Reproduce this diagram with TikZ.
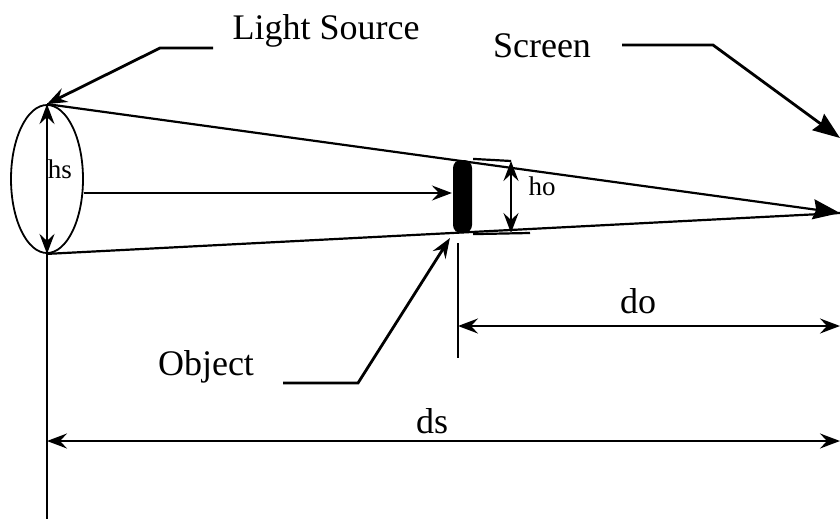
\documentclass[tikz,border=0pt]{standalone}
\usepackage{fontspec}
\setmainfont{Liberation Serif}
\usetikzlibrary{arrows.meta,shapes.geometric}
\begin{document}
\begin{tikzpicture}[x=1pt,y=-1pt,line width=2.2pt,
  >={Stealth[length=20pt,width=15pt,inset=7pt]},
  big/.style={-{Stealth[length=27pt,width=20pt,inset=3pt]}},
  lbl/.style={anchor=base,inner sep=0pt,font=\fontsize{36}{40}\selectfont},
  sml/.style={anchor=base,inner sep=0pt,font=\fontsize{27}{30}\selectfont}]
\useasboundingbox (0,0) rectangle (840,519);
% light source and object
\node (lamp) [draw,ellipse,line width=1.8pt,inner sep=0pt,minimum width=72pt,minimum height=148pt] at (47,179) {};
\node (obj) [fill,rounded corners=8pt,inner sep=0pt,minimum width=19pt,minimum height=73pt] at (462.5,196.5) {};
\coordinate (scr) at (840,213);
\coordinate (scrtop) at (840,138);
% rays
\draw[big](lamp.north)--(scr);
\draw(lamp.south)--(scr);
\draw[->](lamp.east |- 0,193)--(obj.west |- 0,193);
% heights
\draw[<->](lamp.north)--(lamp.south);
\draw(lamp.south)--(47,519);
\draw(obj.north east)--(511,161);
\draw(obj.south east)--(530,233);
\draw[<->](511,161)--(511,233);
\node (hs) [sml] at (60,178) {hs};
\node (ho) [sml] at (542,195) {ho};
% distances
\draw(458,243)--(458,358);
\draw[<->](458,326)--(840,326);
\draw[<->](47,441)--(840,441);
\node (do) [lbl] at (638,313) {do};
\node (ds) [lbl] at (432,433) {ds};
% labels with leaders
\node (ls) [lbl] at (326,40) {Light Source};
\draw[->,line width=2.8pt](213,48)--(160,48)--(lamp.north);
\node (sc) [lbl] at (542,57) {Screen};
\draw[big,line width=2.8pt](622,45)--(713,45)--(scrtop);
\node (ob) [lbl] at (206,375) {Object};
\draw[->,line width=2.8pt](283,383)--(358,383)--([shift={(-2,4)}]obj.south west);
\end{tikzpicture}
\end{document}
